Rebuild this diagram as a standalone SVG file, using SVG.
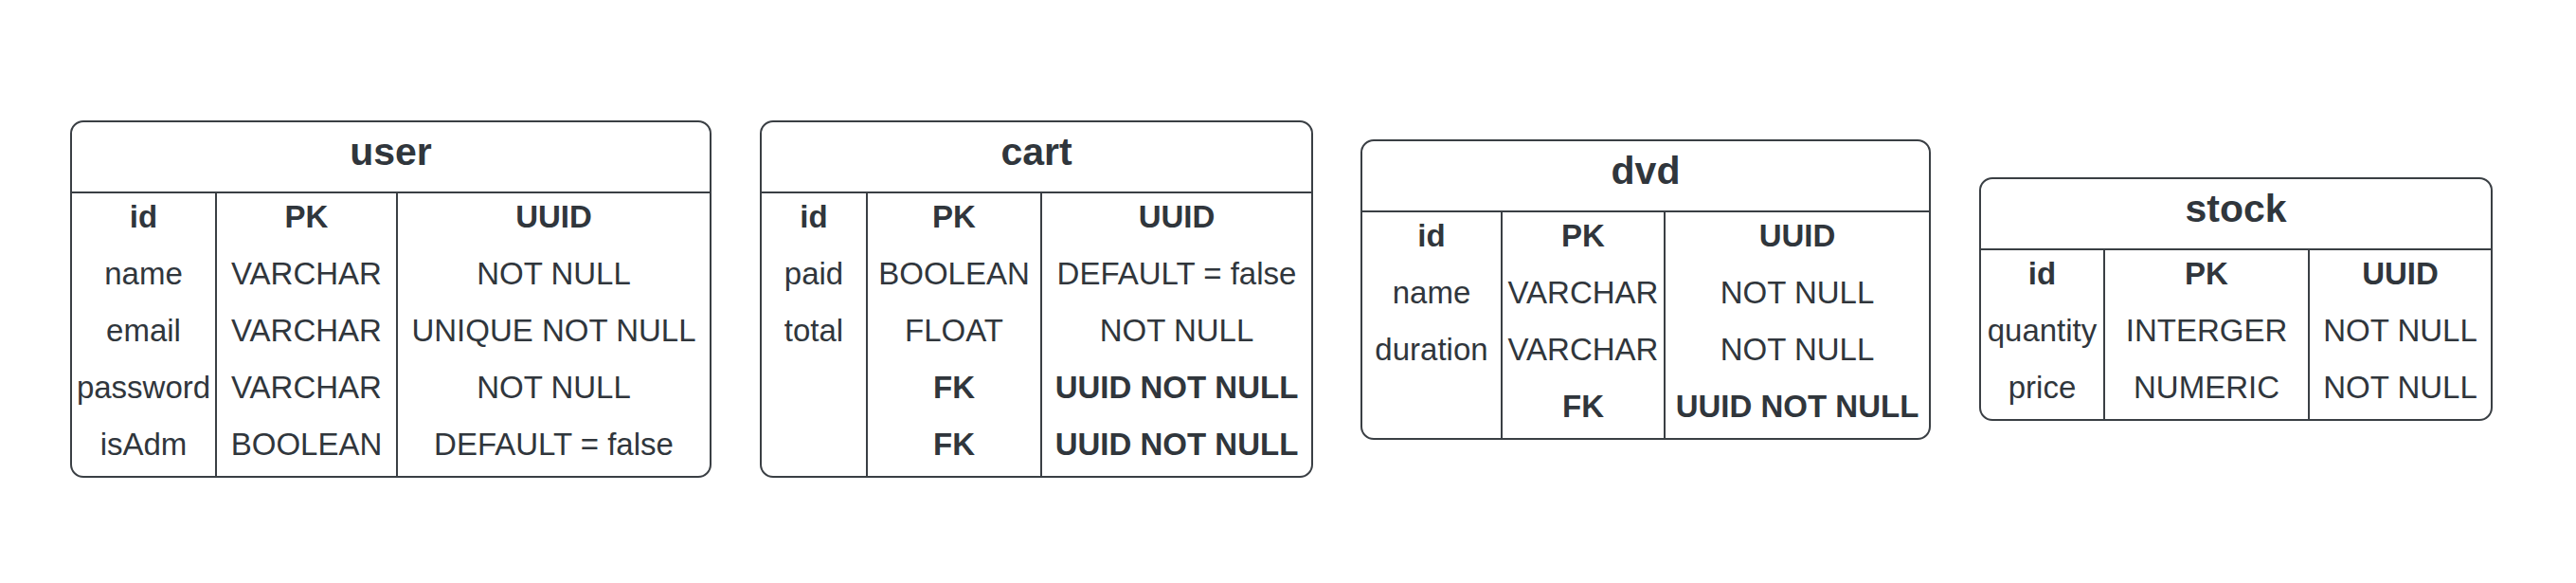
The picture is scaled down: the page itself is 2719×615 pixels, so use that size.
<svg xmlns="http://www.w3.org/2000/svg" width="2719" height="615" viewBox="0 0 2719 615">
<style>
.box{fill:#ffffff;stroke:#3a3f44;stroke-width:2}
.ln{stroke:#3a3f44;stroke-width:2;fill:none}
text{font-family:"Liberation Sans",Arial,sans-serif;fill:#30363c;text-anchor:middle}
.t{font-size:41px;font-weight:bold}
.c{font-size:33px}
.b{font-size:33px;font-weight:bold}
</style>
<rect width="2719" height="615" fill="#ffffff"/>
<g id="user">
<rect class="box" x="75" y="128" width="675" height="375" rx="13"/>
<line class="ln" x1="75" y1="203" x2="750" y2="203"/>
<line class="ln" x1="228" y1="203" x2="228" y2="503"/>
<line class="ln" x1="419" y1="203" x2="419" y2="503"/>
<text class="t" x="412.5" y="174">user</text>
<text class="b" x="151.5" y="240">id</text>
<text class="b" x="323.5" y="240">PK</text>
<text class="b" x="584.5" y="240">UUID</text>
<text class="c" x="151.5" y="300">name</text>
<text class="c" x="323.5" y="300">VARCHAR</text>
<text class="c" x="584.5" y="300">NOT NULL</text>
<text class="c" x="151.5" y="360">email</text>
<text class="c" x="323.5" y="360">VARCHAR</text>
<text class="c" x="584.5" y="360">UNIQUE NOT NULL</text>
<text class="c" x="151.5" y="420">password</text>
<text class="c" x="323.5" y="420">VARCHAR</text>
<text class="c" x="584.5" y="420">NOT NULL</text>
<text class="c" x="151.5" y="480">isAdm</text>
<text class="c" x="323.5" y="480">BOOLEAN</text>
<text class="c" x="584.5" y="480">DEFAULT = false</text>
</g>
<g id="cart">
<rect class="box" x="803" y="128" width="582" height="375" rx="13"/>
<line class="ln" x1="803" y1="203" x2="1385" y2="203"/>
<line class="ln" x1="915" y1="203" x2="915" y2="503"/>
<line class="ln" x1="1099" y1="203" x2="1099" y2="503"/>
<text class="t" x="1094" y="174">cart</text>
<text class="b" x="859" y="240">id</text>
<text class="b" x="1007" y="240">PK</text>
<text class="b" x="1242" y="240">UUID</text>
<text class="c" x="859" y="300">paid</text>
<text class="c" x="1007" y="300">BOOLEAN</text>
<text class="c" x="1242" y="300">DEFAULT = false</text>
<text class="c" x="859" y="360">total</text>
<text class="c" x="1007" y="360">FLOAT</text>
<text class="c" x="1242" y="360">NOT NULL</text>
<text class="b" x="1007" y="420">FK</text>
<text class="b" x="1242" y="420">UUID NOT NULL</text>
<text class="b" x="1007" y="480">FK</text>
<text class="b" x="1242" y="480">UUID NOT NULL</text>
</g>
<g id="dvd">
<rect class="box" x="1437" y="148" width="600" height="315" rx="13"/>
<line class="ln" x1="1437" y1="223" x2="2037" y2="223"/>
<line class="ln" x1="1585" y1="223" x2="1585" y2="463"/>
<line class="ln" x1="1757" y1="223" x2="1757" y2="463"/>
<text class="t" x="1737" y="194">dvd</text>
<text class="b" x="1511" y="260">id</text>
<text class="b" x="1671" y="260">PK</text>
<text class="b" x="1897" y="260">UUID</text>
<text class="c" x="1511" y="320">name</text>
<text class="c" x="1671" y="320">VARCHAR</text>
<text class="c" x="1897" y="320">NOT NULL</text>
<text class="c" x="1511" y="380">duration</text>
<text class="c" x="1671" y="380">VARCHAR</text>
<text class="c" x="1897" y="380">NOT NULL</text>
<text class="b" x="1671" y="440">FK</text>
<text class="b" x="1897" y="440">UUID NOT NULL</text>
</g>
<g id="stock">
<rect class="box" x="2090" y="188" width="540" height="255" rx="13"/>
<line class="ln" x1="2090" y1="263" x2="2630" y2="263"/>
<line class="ln" x1="2221" y1="263" x2="2221" y2="443"/>
<line class="ln" x1="2437" y1="263" x2="2437" y2="443"/>
<text class="t" x="2360" y="234">stock</text>
<text class="b" x="2155.5" y="300">id</text>
<text class="b" x="2329" y="300">PK</text>
<text class="b" x="2533.5" y="300">UUID</text>
<text class="c" x="2155.5" y="360">quantity</text>
<text class="c" x="2329" y="360">INTERGER</text>
<text class="c" x="2533.5" y="360">NOT NULL</text>
<text class="c" x="2155.5" y="420">price</text>
<text class="c" x="2329" y="420">NUMERIC</text>
<text class="c" x="2533.5" y="420">NOT NULL</text>
</g>
<g id="connectors"/>
</svg>
